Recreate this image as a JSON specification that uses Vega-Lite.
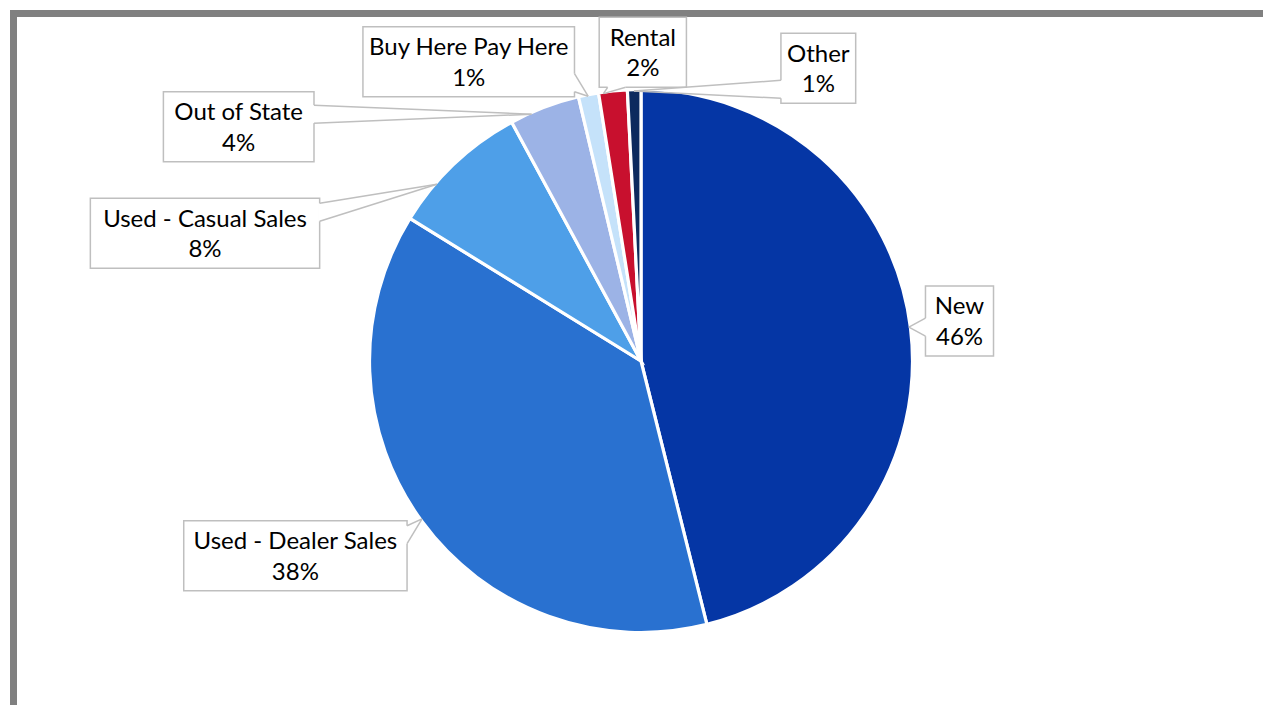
{
  "$schema": "https://vega.github.io/schema/vega-lite/v6.json",
  "width": 1263,
  "height": 705,
  "autosize": {"type": "fit", "contains": "padding"},
  "padding": {"left": 13.5, "top": 13.5, "right": -5.5, "bottom": -3.5},
  "background": "white",
  "config": {"view": {"stroke": "#808080", "strokeWidth": 7, "fill": "white"}},
  "datasets": {
    "slices": [
      {"category": "New", "share": 46.1, "rank": 1},
      {"category": "Used - Dealer Sales", "share": 37.7, "rank": 2},
      {"category": "Used - Casual Sales", "share": 8.3, "rank": 3},
      {"category": "Out of State", "share": 4.2, "rank": 4},
      {"category": "Buy Here Pay Here", "share": 1.2, "rank": 5},
      {"category": "Rental", "share": 1.7, "rank": 6},
      {"category": "Other", "share": 0.8, "rank": 7}
    ],
    "callouts": [
      {"name": "New", "line1": "New", "line2": "46%", "anchorX": 1.1796, "anchorY": 0.1481, "pointAt": 82.8},
      {"name": "Used - Dealer Sales", "line1": "Used - Dealer Sales", "line2": "38%", "anchorX": -1.28, "anchorY": -0.7211, "pointAt": 234.2},
      {"name": "Used - Casual Sales", "line1": "Used - Casual Sales", "line2": "8%", "anchorX": -1.6148, "anchorY": 0.473, "pointAt": 310.9},
      {"name": "Out of State", "line1": "Out of State", "line2": "4%", "anchorX": -1.49, "anchorY": 0.8678, "pointAt": 336.1},
      {"name": "Buy Here Pay Here", "line1": "Buy Here Pay Here", "line2": "1%", "anchorX": -0.6381, "anchorY": 1.1085, "pointAt": 348.7},
      {"name": "Rental", "line1": "Rental", "line2": "2%", "anchorX": 0.0067, "anchorY": 1.1433, "pointAt": 352.0},
      {"name": "Other", "line1": "Other", "line2": "1%", "anchorX": 0.6567, "anchorY": 1.0841, "pointAt": 358.5}
    ]
  },
  "layer": [
    {
      "data": {"name": "slices"},
      "mark": {"type": "arc", "outerRadius": 271.5, "stroke": "white", "strokeWidth": 3.2},
      "encoding": {
        "theta": {"field": "share", "type": "quantitative", "stack": true},
        "order": {"field": "rank", "type": "quantitative"},
        "color": {
          "field": "category",
          "type": "nominal",
          "scale": {
            "domain": ["New", "Used - Dealer Sales", "Used - Casual Sales", "Out of State", "Buy Here Pay Here", "Rental", "Other"],
            "range": ["#0536A5", "#2971D0", "#4E9FE8", "#9CB3E6", "#C5E2FA", "#C8102E", "#0C2A5E"]
          },
          "legend": null
        }
      }
    },
    {
      "data": {"name": "callouts"},
      "transform": [
        {"calculate": "0.66*(length(datum.line1)-length(replace(datum.line1,regexp('[A-Z]','g'),''))) + 0.52*(length(datum.line1)-length(replace(datum.line1,regexp('[a-hkmnopqsuvwxyz]','g'),''))) + 0.27*(length(datum.line1)-length(replace(datum.line1,regexp('[iljrtf]','g'),''))) + 0.2*(length(datum.line1)-length(replace(datum.line1,regexp(' ','g'),''))) + 0.58*(length(datum.line1)-length(replace(datum.line1,regexp('[0-9]','g'),''))) + 0.8*(length(datum.line1)-length(replace(datum.line1,regexp('%','g'),''))) + 0.36*(length(datum.line1)-length(replace(datum.line1,regexp('-','g'),'')))", "as": "w1"},
        {"calculate": "0.66*(length(datum.line2)-length(replace(datum.line2,regexp('[A-Z]','g'),''))) + 0.52*(length(datum.line2)-length(replace(datum.line2,regexp('[a-hkmnopqsuvwxyz]','g'),''))) + 0.27*(length(datum.line2)-length(replace(datum.line2,regexp('[iljrtf]','g'),''))) + 0.2*(length(datum.line2)-length(replace(datum.line2,regexp(' ','g'),''))) + 0.58*(length(datum.line2)-length(replace(datum.line2,regexp('[0-9]','g'),''))) + 0.8*(length(datum.line2)-length(replace(datum.line2,regexp('%','g'),''))) + 0.36*(length(datum.line2)-length(replace(datum.line2,regexp('-','g'),'')))", "as": "w2"},
        {"calculate": "(max(datum.w1, datum.w2)*24/2 + 10.5)/270", "as": "hw"},
        {"calculate": "35/270", "as": "hh"},
        {"calculate": "datum.anchorX - datum.hw", "as": "L"},
        {"calculate": "datum.anchorX + datum.hw", "as": "R"},
        {"calculate": "datum.anchorY + datum.hh", "as": "T"},
        {"calculate": "datum.anchorY - datum.hh", "as": "B"},
        {"calculate": "sin(datum.pointAt*PI/180)", "as": "tx"},
        {"calculate": "cos(datum.pointAt*PI/180)", "as": "ty"},
        {"calculate": "datum.tx > datum.R ? 'right' : (datum.tx < datum.L ? 'left' : (datum.ty < datum.B ? 'bottom' : 'top'))", "as": "side"},
        {"calculate": "datum.side == 'right' || datum.side == 'left'", "as": "vert"},
        {"calculate": "datum.side == 'right' ? datum.R : (datum.side == 'left' ? datum.L : clamp(datum.tx, datum.L + 0.4*datum.hw, datum.R - 0.4*datum.hw))", "as": "bcx"},
        {"calculate": "datum.side == 'bottom' ? datum.B : (datum.side == 'top' ? datum.T : clamp(datum.ty, datum.B + 0.4*datum.hh, datum.T - 0.4*datum.hh))", "as": "bcy"},
        {"calculate": "datum.bcx - (datum.vert ? 0 : 9/270)", "as": "b1x"},
        {"calculate": "datum.bcy + (datum.vert ? 9/270 : 0)", "as": "b1y"},
        {"calculate": "datum.bcx + (datum.vert ? 0 : 9/270)", "as": "b2x"},
        {"calculate": "datum.bcy - (datum.vert ? 9/270 : 0)", "as": "b2y"},
        {"calculate": "datum.line1 + '\\n' + datum.line2", "as": "label"}
      ],
      "layer": [
        {
          "mark": {"type": "rect", "fill": "white", "stroke": "#BFBFBF", "strokeWidth": 1.5},
          "encoding": {
            "x": {"field": "L", "type": "quantitative", "scale": {"domain": [-2.32407, 2.32407], "nice": false, "zero": false}, "axis": null},
            "x2": {"field": "R"},
            "y": {"field": "B", "type": "quantitative", "scale": {"domain": [-1.28704, 1.28704], "nice": false, "zero": false}, "axis": null},
            "y2": {"field": "T"}
          }
        },
        {
          "mark": {"type": "rule", "color": "white", "strokeWidth": 3},
          "encoding": {
            "x": {"field": "b1x", "type": "quantitative", "scale": {"domain": [-2.32407, 2.32407], "nice": false, "zero": false}, "axis": null},
            "x2": {"field": "b2x"},
            "y": {"field": "b1y", "type": "quantitative", "scale": {"domain": [-1.28704, 1.28704], "nice": false, "zero": false}, "axis": null},
            "y2": {"field": "b2y"}
          }
        },
        {
          "mark": {"type": "rule", "color": "#BFBFBF", "strokeWidth": 1.5},
          "encoding": {
            "x": {"field": "b1x", "type": "quantitative", "scale": {"domain": [-2.32407, 2.32407], "nice": false, "zero": false}, "axis": null},
            "x2": {"field": "tx"},
            "y": {"field": "b1y", "type": "quantitative", "scale": {"domain": [-1.28704, 1.28704], "nice": false, "zero": false}, "axis": null},
            "y2": {"field": "ty"}
          }
        },
        {
          "mark": {"type": "rule", "color": "#BFBFBF", "strokeWidth": 1.5},
          "encoding": {
            "x": {"field": "b2x", "type": "quantitative", "scale": {"domain": [-2.32407, 2.32407], "nice": false, "zero": false}, "axis": null},
            "x2": {"field": "tx"},
            "y": {"field": "b2y", "type": "quantitative", "scale": {"domain": [-1.28704, 1.28704], "nice": false, "zero": false}, "axis": null},
            "y2": {"field": "ty"}
          }
        },
        {
          "mark": {"type": "text", "font": "Lato", "fontSize": 24, "lineBreak": "\n", "lineHeight": 30.6, "align": "center", "baseline": "alphabetic", "dy": -6.6, "color": "#000000"},
          "encoding": {
            "x": {"field": "anchorX", "type": "quantitative", "scale": {"domain": [-2.32407, 2.32407], "nice": false, "zero": false}, "axis": null},
            "y": {"field": "anchorY", "type": "quantitative", "scale": {"domain": [-1.28704, 1.28704], "nice": false, "zero": false}, "axis": null},
            "text": {"field": "label", "type": "nominal"}
          }
        }
      ]
    }
  ]
}
